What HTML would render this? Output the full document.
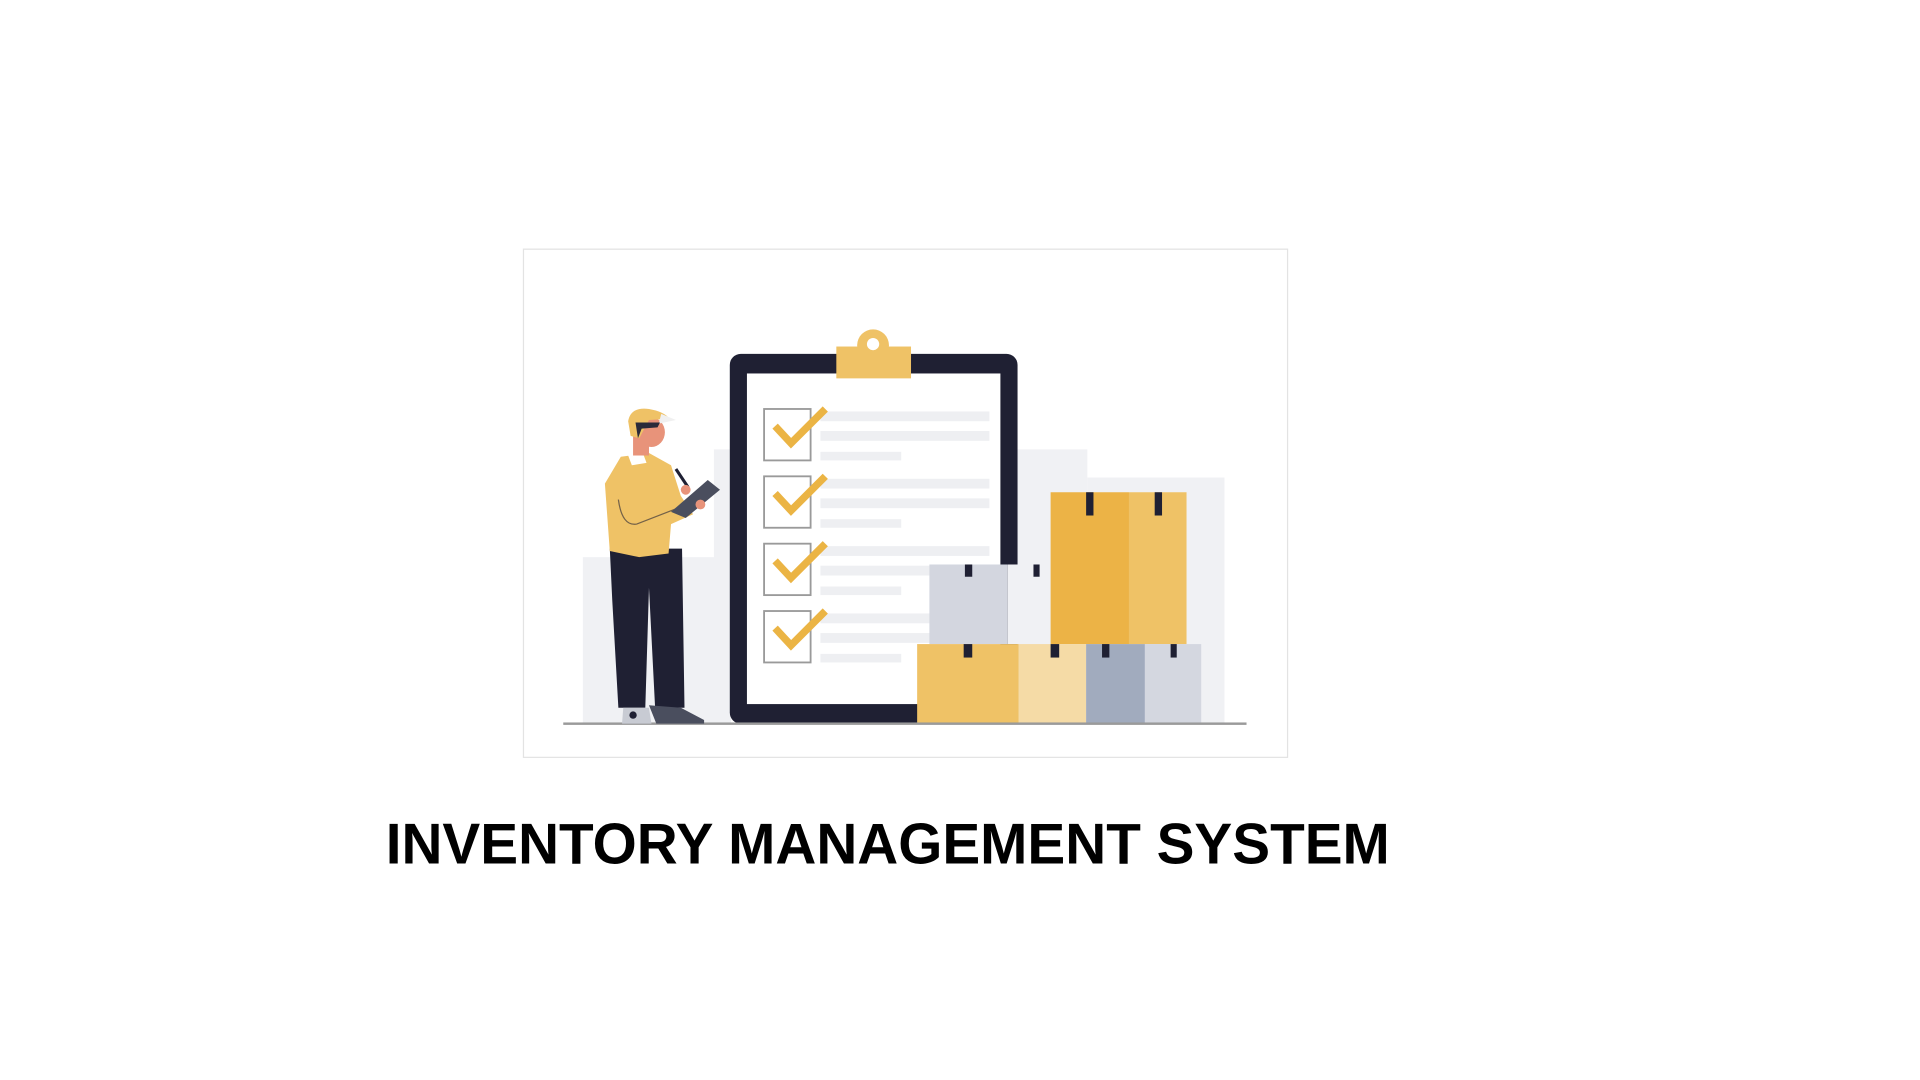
<!DOCTYPE html>
<html><head><meta charset="utf-8"><style>html,body{margin:0;padding:0;background:#fff;width:1920px;height:1080px;overflow:hidden}svg{display:block}</style></head>
<body>
<svg width="1920" height="1080" viewBox="0 0 1568 882" xmlns="http://www.w3.org/2000/svg">
<rect width="1568" height="882" fill="#fff"/>
<rect x="427.5" y="203.5" width="624" height="415" fill="#fff" stroke="#e3e3e3" stroke-width="1"/>
<g fill="#f0f1f4">
<rect x="476" y="455" width="110" height="136"/>
<rect x="583" y="367" width="14" height="224"/>
<rect x="831" y="367" width="57" height="224"/>
<rect x="888" y="390" width="112" height="201"/>
</g>
<rect x="596" y="289" width="235" height="302" rx="9" fill="#1f2033"/>
<rect x="610" y="305" width="207" height="270" fill="#fff"/>
<rect x="683" y="283" width="61" height="26" fill="#efc266"/>
<circle cx="713" cy="282" r="13" fill="#efc266"/>
<circle cx="713" cy="281" r="5" fill="#fff"/>
<g>
<g>
<rect x="624" y="334" width="38" height="42" fill="#fff" stroke="#9a9a9a" stroke-width="1.5"/>
<rect x="670" y="336" width="138" height="8" fill="#eeeff2"/>
<rect x="670" y="352" width="138" height="8" fill="#eeeff2"/>
<rect x="670" y="369" width="66" height="7" fill="#eeeff2"/>
<polyline points="633,348 646,362 674,334" fill="none" stroke="#ebb444" stroke-width="6"/>
</g>
<g transform="translate(0,55)">
<rect x="624" y="334" width="38" height="42" fill="#fff" stroke="#9a9a9a" stroke-width="1.5"/>
<rect x="670" y="336" width="138" height="8" fill="#eeeff2"/>
<rect x="670" y="352" width="138" height="8" fill="#eeeff2"/>
<rect x="670" y="369" width="66" height="7" fill="#eeeff2"/>
<polyline points="633,348 646,362 674,334" fill="none" stroke="#ebb444" stroke-width="6"/>
</g>
<g transform="translate(0,110)">
<rect x="624" y="334" width="38" height="42" fill="#fff" stroke="#9a9a9a" stroke-width="1.5"/>
<rect x="670" y="336" width="138" height="8" fill="#eeeff2"/>
<rect x="670" y="352" width="138" height="8" fill="#eeeff2"/>
<rect x="670" y="369" width="66" height="7" fill="#eeeff2"/>
<polyline points="633,348 646,362 674,334" fill="none" stroke="#ebb444" stroke-width="6"/>
</g>
<g transform="translate(0,165)">
<rect x="624" y="334" width="38" height="42" fill="#fff" stroke="#9a9a9a" stroke-width="1.5"/>
<rect x="670" y="336" width="138" height="8" fill="#eeeff2"/>
<rect x="670" y="352" width="138" height="8" fill="#eeeff2"/>
<rect x="670" y="369" width="66" height="7" fill="#eeeff2"/>
<polyline points="633,348 646,362 674,334" fill="none" stroke="#ebb444" stroke-width="6"/>
</g>
</g>
<rect x="759" y="461" width="64" height="65" fill="#d3d6df"/>
<rect x="823" y="461" width="47" height="65" fill="#f0f1f4"/>
<rect x="858" y="402" width="64" height="124" fill="#ecb346"/>
<rect x="922" y="402" width="47" height="124" fill="#efc266"/>
<rect x="749" y="526" width="83" height="65" fill="#efc266"/>
<rect x="832" y="526" width="55" height="65" fill="#f5dba6"/>
<rect x="887" y="526" width="48" height="65" fill="#a1abbe"/>
<rect x="935" y="526" width="46" height="65" fill="#d4d7e0"/>
<g fill="#1f2033">
<rect x="788" y="461" width="6" height="10"/><rect x="844" y="461" width="5" height="10"/>
<rect x="887" y="402" width="6" height="19"/><rect x="943" y="402" width="6" height="19"/>
<rect x="787" y="526" width="7" height="11"/><rect x="858" y="526" width="7" height="11"/>
<rect x="900" y="526" width="6" height="11"/><rect x="956" y="526" width="5" height="11"/>
</g>
<rect x="460" y="590" width="558" height="2" fill="#9a9a9a"/>
<path d="M498 448 L557 448 L559 578 L535 578 L530 480 L527 578 L505 578 L500 490 Z" fill="#1f2033"/>
<path d="M509 578 L530 578 L532 591 L508 591 Z" fill="#c8cbd3"/>
<path d="M530 576 L556 578 L575 588 L575 591 L536 591 Z" fill="#4a4e5e"/>
<circle cx="517" cy="584" r="3" fill="#1f2033"/>
<path d="M507 373 L530 370 L548 380 L556 405 L566 420 L548 428 L546 452 L522 455 L498 450 L494 395 Z" fill="#efc266"/>
<path d="M513 372 L525 370 L528 378 L516 380 Z" fill="#fff"/>
<path d="M505 408 Q508 430 520 428 L556 414" fill="none" stroke="#1f2033" stroke-width="1" opacity=".6"/>
<rect x="517" y="350" width="13" height="22" fill="#e8937a"/>
<ellipse cx="532" cy="353" rx="11" ry="12" fill="#e8937a"/>
<path d="M513 344 Q515 332 530 334 Q542 336 547 342 L530 343 L522 358 L515 356 Z" fill="#efc266"/>
<path d="M540 338 L552 343 L538 346 Z" fill="#f0f0f0"/>
<path d="M519 345 L539 345 L537 349 L524 350 L521 358 Z" fill="#2a2a3a"/>
<path d="M548 418 L578 392 L588 400 L560 423 Z" fill="#4a4e5e"/>
<line x1="552" y1="383" x2="562" y2="398" stroke="#1f2033" stroke-width="2.5"/>
<circle cx="560" cy="400" r="4" fill="#e8937a"/>
<circle cx="572" cy="412" r="4" fill="#e8937a"/>
<text x="315" y="705" font-family="Liberation Sans, sans-serif" font-weight="bold" font-size="47" textLength="820" lengthAdjust="spacingAndGlyphs" fill="#000">INVENTORY MANAGEMENT SYSTEM</text>
</svg>
</body></html>
